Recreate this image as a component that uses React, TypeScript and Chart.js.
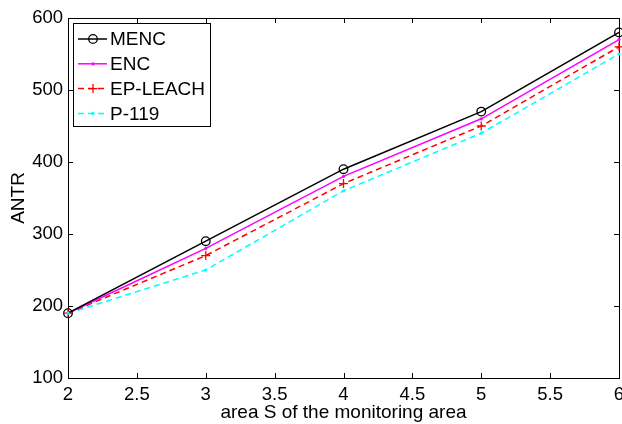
import React, { useEffect, useRef } from 'react';
import { Chart, registerables } from 'chart.js';

Chart.register(...registerables);

const xValues = [2, 3, 4, 5, 6];
const mencValues = [190, 290, 390, 470, 580];
const encValues = [190, 280, 380, 460, 570];
const epLeachValues = [190, 270, 370, 450, 560];
const p119Values = [190, 250, 360, 440, 550];
const seriesLabels = ['MENC', 'ENC', 'EP-LEACH', 'P-119'];
const xTitle = 'area S of the monitoring area';
const yTitle = 'ANTR';

const FONT = '"Liberation Sans", Arial, Helvetica, sans-serif';

type Marker = 'circle' | 'dot' | 'plus';

const boxPlugin = {
  id: 'matlabBox',
  afterDatasetsDraw(chart: any) {
    const { ctx, chartArea, scales } = chart;
    const { left, right, top, bottom } = chartArea;
    const L = 5;
    ctx.save();
    ctx.strokeStyle = '#000';
    ctx.lineWidth = 1;
    ctx.beginPath();
    const xs = scales.x;
    xs.ticks.forEach((t: any) => {
      const px = Math.round(xs.getPixelForValue(t.value)) + 0.5;
      ctx.moveTo(px, bottom);
      ctx.lineTo(px, bottom - L);
      ctx.moveTo(px, top);
      ctx.lineTo(px, top + L);
    });
    const ys = scales.y;
    ys.ticks.forEach((t: any) => {
      const py = Math.round(ys.getPixelForValue(t.value)) + 0.5;
      ctx.moveTo(left, py);
      ctx.lineTo(left + L, py);
      ctx.moveTo(right, py);
      ctx.lineTo(right - L, py);
    });
    ctx.stroke();
    ctx.strokeRect(Math.round(left) + 0.5, Math.round(top) + 0.5, Math.round(right - left), Math.round(bottom - top));
    ctx.restore();
  },
};

function drawMarker(ctx: CanvasRenderingContext2D, kind: Marker, x: number, y: number, color: string) {
  ctx.save();
  ctx.setLineDash([]);
  ctx.strokeStyle = color;
  ctx.fillStyle = color;
  ctx.lineWidth = 1.3;
  if (kind === 'circle') {
    ctx.beginPath();
    ctx.arc(x, y, 4.3, 0, Math.PI * 2);
    ctx.stroke();
  } else if (kind === 'dot') {
    ctx.beginPath();
    ctx.arc(x, y, 1.6, 0, Math.PI * 2);
    ctx.fill();
  } else {
    ctx.beginPath();
    ctx.moveTo(x - 4.5, y);
    ctx.lineTo(x + 4.5, y);
    ctx.moveTo(x, y - 4.5);
    ctx.lineTo(x, y + 4.5);
    ctx.stroke();
  }
  ctx.restore();
}

const markers: Marker[] = ['circle', 'dot', 'plus', 'dot'];

const legendPlugin = {
  id: 'matlabLegend',
  afterDraw(chart: any) {
    const { ctx, chartArea } = chart;
    const bx = Math.round(chartArea.left) + 5;
    const by = Math.round(chartArea.top) + 5;
    const bw = 137;
    const bh = 103;
    ctx.save();
    ctx.fillStyle = '#fff';
    ctx.fillRect(bx, by, bw, bh);
    ctx.strokeStyle = '#000';
    ctx.lineWidth = 1;
    ctx.strokeRect(bx + 0.5, by + 0.5, bw, bh);
    ctx.font = `19px ${FONT}`;
    ctx.textBaseline = 'middle';
    ctx.textAlign = 'left';
    chart.data.datasets.forEach((ds: any, i: number) => {
      const cy = by + 16 + i * 24.8;
      ctx.save();
      ctx.strokeStyle = ds.borderColor;
      ctx.lineWidth = ds.borderWidth;
      ctx.setLineDash(ds.borderDash || []);
      ctx.beginPath();
      ctx.moveTo(bx + 5, cy);
      ctx.lineTo(bx + 34, cy);
      ctx.stroke();
      ctx.restore();
      drawMarker(ctx, markers[i], bx + 20, cy, ds.borderColor);
      ctx.fillStyle = '#000';
      ctx.fillText(ds.label, bx + 37, cy + 1);
    });
    ctx.restore();
  },
};

const markerPlugin = {
  id: 'matlabMarkers',
  afterDatasetsDraw(chart: any) {
    const { ctx } = chart;
    chart.data.datasets.forEach((ds: any, i: number) => {
      const meta = chart.getDatasetMeta(i);
      meta.data.forEach((pt: any) => {
        drawMarker(ctx, markers[i], pt.x, pt.y, ds.borderColor);
      });
    });
  },
};

function toPoints(vals: number[]) {
  return vals.map((v, i) => ({ x: xValues[i], y: v }));
}

export default function App() {
  const ref = useRef<HTMLCanvasElement | null>(null);
  useEffect(() => {
    if (!ref.current) return;
    const common = { pointRadius: 0, pointHoverRadius: 0, fill: false, tension: 0, borderWidth: 1.5 };
    const chart = new Chart(ref.current, {
      type: 'line',
      data: {
        datasets: [
          { ...common, label: seriesLabels[0], data: toPoints(mencValues), borderColor: '#000000' },
          { ...common, label: seriesLabels[1], data: toPoints(encValues), borderColor: '#ff00ff' },
          { ...common, label: seriesLabels[2], data: toPoints(epLeachValues), borderColor: '#ff0000', borderDash: [6, 4] },
          { ...common, label: seriesLabels[3], data: toPoints(p119Values), borderColor: '#00ffff', borderDash: [6, 4] },
        ],
      },
      options: {
        responsive: false,
        animation: false,
        events: [],
        layout: { padding: { left: 0, right: 3, top: 18, bottom: 0 } },
        plugins: { legend: { display: false }, tooltip: { enabled: false } },
        scales: {
          x: {
            type: 'linear',
            min: 2,
            max: 6,
            ticks: {
              stepSize: 0.5,
              color: '#000',
              font: { family: FONT, size: 18.5 },
              padding: 6,
              maxRotation: 0,
              autoSkip: false,
              callback: (v: any) => String(Math.round(Number(v) * 10) / 10),
            },
            grid: { display: false, drawTicks: false },
            border: { display: false },
            title: { display: true, text: xTitle, color: '#000', font: { family: FONT, size: 19 }, padding: { top: 0, bottom: 0 } },
            afterFit: (s: any) => { s.height = 46; s.paddingLeft = 0; s.paddingRight = 0; },
          },
          y: {
            type: 'linear',
            min: 100,
            max: 600,
            ticks: {
              stepSize: 100,
              color: '#000',
              font: { family: FONT, size: 18.5 },
              padding: 5,
              callback: (v: any) => String(v),
            },
            grid: { display: false, drawTicks: false },
            border: { display: false },
            title: { display: true, text: yTitle, color: '#000', font: { family: FONT, size: 19 }, padding: { top: 7, bottom: 0 } },
            afterFit: (s: any) => { s.width = 68; },
          },
        },
      },
      plugins: [boxPlugin, markerPlugin, legendPlugin],
    });
    return () => chart.destroy();
  }, []);
  return (
    <canvas
      ref={ref}
      width={622}
      height={424}
      style={{ position: 'fixed', left: 0, top: 0, display: 'block', background: '#fff' }}
    />
  );
}
